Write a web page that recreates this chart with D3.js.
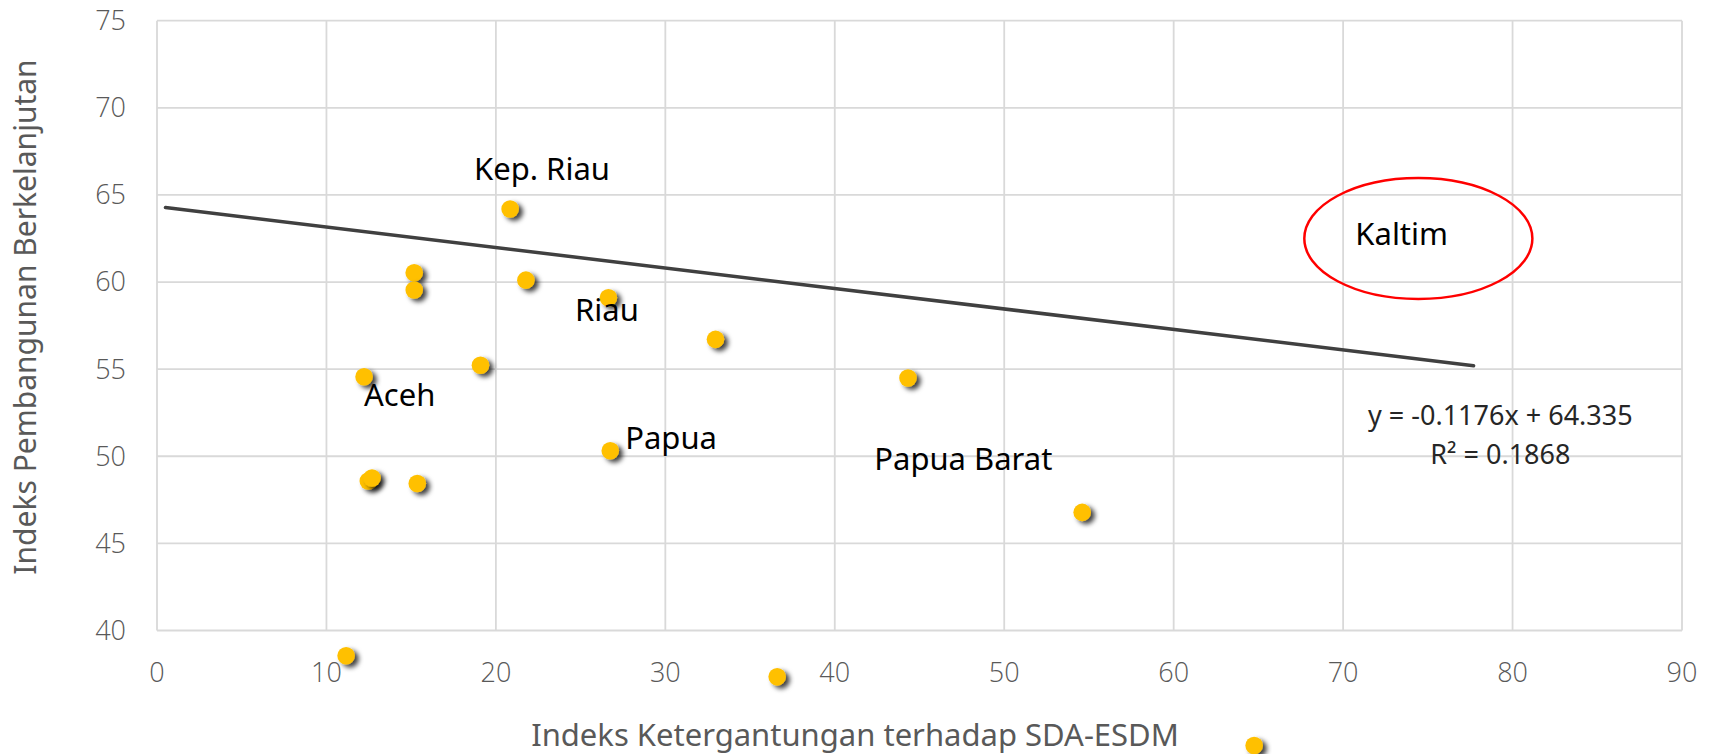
<!DOCTYPE html>
<html>
<head>
<meta charset="utf-8">
<script src="https://cdn.jsdelivr.net/npm/d3@7"></script>
<style>
  body { margin: 0; background: #fff; }
  svg { display: block; }
  .tick-label { font-family: "Open Sans", "Noto Sans", sans-serif; font-weight: 300; font-size: 27px; fill: #595959; }
  .axis-title { font-family: "Noto Sans", sans-serif; fill: #595959; }
  .name { font-family: "Noto Sans", sans-serif; font-size: 31px; fill: #000; }
  .eq { font-family: "Noto Sans", sans-serif; font-size: 27px; fill: #262626; }
</style>
</head>
<body>
<svg id="chart" width="1715" height="754"></svg>
<script>
// provinces: x = Indeks Ketergantungan SDA-ESDM, y = Indeks Pembangunan Berkelanjutan
const xVals = [20.84, 15.18, 15.18, 21.77, 26.64, 32.96, 12.22, 19.09, 44.32, 26.75, 12.47, 12.69, 15.36, 54.6, 11.16, 36.6, 64.75]
const yVals = [64.19, 60.53, 59.54, 60.11, 59.1, 56.71, 54.56, 55.22, 54.49, 50.32, 48.58, 48.75, 48.44, 46.78, 38.55, 37.34, 33.4]

// annotation text and where it sits (data units)
const labelNames = ["Kep. Riau", "Riau", "Aceh", "Papua", "Papua Barat", "Kaltim"]
const labelX = [18.71, 24.67, 12.22, 27.63, 42.33, 70.72]
const labelY = [65.86, 57.76, 52.88, 50.41, 49.21, 62.12]

// linear trendline
const slope = -0.1176
const intercept = 64.335
const r2 = 0.1868
const trendRange = [0.5, 77.7]

const xTicks = [0, 10, 20, 30, 40, 50, 60, 70, 80, 90]
const yTicks = [40, 45, 50, 55, 60, 65, 70, 75]

const xTitle = "Indeks Ketergantungan terhadap SDA-ESDM"
const yTitle = "Indeks Pembangunan Berkelanjutan"

let svg = d3.select("#chart")
let plotL = 157, plotR = 1682, plotT = 20.7, plotB = 630.5

let xScale = d3.scaleLinear().domain([0, 90]).range([plotL, plotR])
let yScale = d3.scaleLinear().domain([40, 75]).range([plotB, plotT])

// shadow under the markers
let defs = svg.append("defs")
defs.append("filter").attr("id", "shadow")
    .attr("x", "-50%").attr("y", "-50%").attr("width", "200%").attr("height", "200%")
    .append("feDropShadow")
    .attr("dx", 4).attr("dy", 3).attr("stdDeviation", 2.5)
    .attr("flood-color", "#000").attr("flood-opacity", 0.75)

// gridlines
let grid = svg.append("g")
grid.selectAll(".vgrid").data(xTicks).enter().append("line")
    .attr("x1", d => xScale(d)).attr("x2", d => xScale(d))
    .attr("y1", plotT).attr("y2", plotB)
    .attr("stroke", "#d9d9d9").attr("stroke-width", 1.8)
grid.selectAll(".hgrid").data(yTicks).enter().append("line")
    .attr("y1", d => yScale(d)).attr("y2", d => yScale(d))
    .attr("x1", plotL).attr("x2", plotR)
    .attr("stroke", "#d9d9d9").attr("stroke-width", 1.8)

// tick labels
svg.selectAll(".xt").data(xTicks).enter().append("text")
    .attr("class", "tick-label")
    .attr("x", d => xScale(d)).attr("y", 682)
    .attr("text-anchor", "middle")
    .text(d => d)
svg.selectAll(".yt").data(yTicks).enter().append("text")
    .attr("class", "tick-label")
    .attr("x", 126).attr("y", d => yScale(d))
    .attr("dy", "0.35em")
    .attr("text-anchor", "end")
    .text(d => d)

// axis titles
svg.append("text").attr("class", "axis-title")
    .attr("x", 855).attr("y", 746)
    .attr("font-size", 31)
    .attr("text-anchor", "middle")
    .text(xTitle)
svg.append("g")
    .attr("transform", "translate(36,317) rotate(-90)")
    .append("text").attr("class", "axis-title")
    .attr("font-size", 30)
    .attr("text-anchor", "middle")
    .text(yTitle)

// trendline
svg.append("line")
    .attr("x1", xScale(trendRange[0])).attr("y1", yScale(slope * trendRange[0] + intercept))
    .attr("x2", xScale(trendRange[1])).attr("y2", yScale(slope * trendRange[1] + intercept))
    .attr("stroke", "#404040").attr("stroke-width", 3.5).attr("stroke-linecap", "round")

// markers
let pts = xVals.map((x, i) => ({x: x, y: yVals[i]}))
svg.selectAll(".markers").data(pts).enter().append("circle")
    .attr("class", "markers")
    .attr("cx", d => xScale(d.x)).attr("cy", d => yScale(d.y))
    .attr("r", 8.8)
    .attr("fill", "#ffc000")
    .attr("filter", "url(#shadow)")

// province names
svg.selectAll(".name").data(labelNames).enter().append("text")
    .attr("class", "name")
    .attr("x", (d, i) => xScale(labelX[i])).attr("y", (d, i) => yScale(labelY[i]))
    .text(d => d)

// red ellipse round Kaltim
let cx = 74.44, cy = 62.5
svg.append("ellipse")
    .attr("cx", xScale(cx)).attr("cy", yScale(cy))
    .attr("rx", xScale(cx + 6.73) - xScale(cx)).attr("ry", yScale(cy) - yScale(cy + 3.47))
    .attr("fill", "none").attr("stroke", "#ff0000").attr("stroke-width", 2.5)

// equation (Excel style, plain hyphen for the minus)
svg.append("text").attr("class", "eq")
    .attr("x", xScale(79.28)).attr("y", yScale(51.79))
    .attr("text-anchor", "middle")
    .text("y = " + slope.toFixed(4) + "x + " + intercept)
svg.append("text").attr("class", "eq")
    .attr("x", xScale(79.28)).attr("y", yScale(49.54))
    .attr("text-anchor", "middle")
    .text("R² = " + r2)
</script>
</body>
</html>
